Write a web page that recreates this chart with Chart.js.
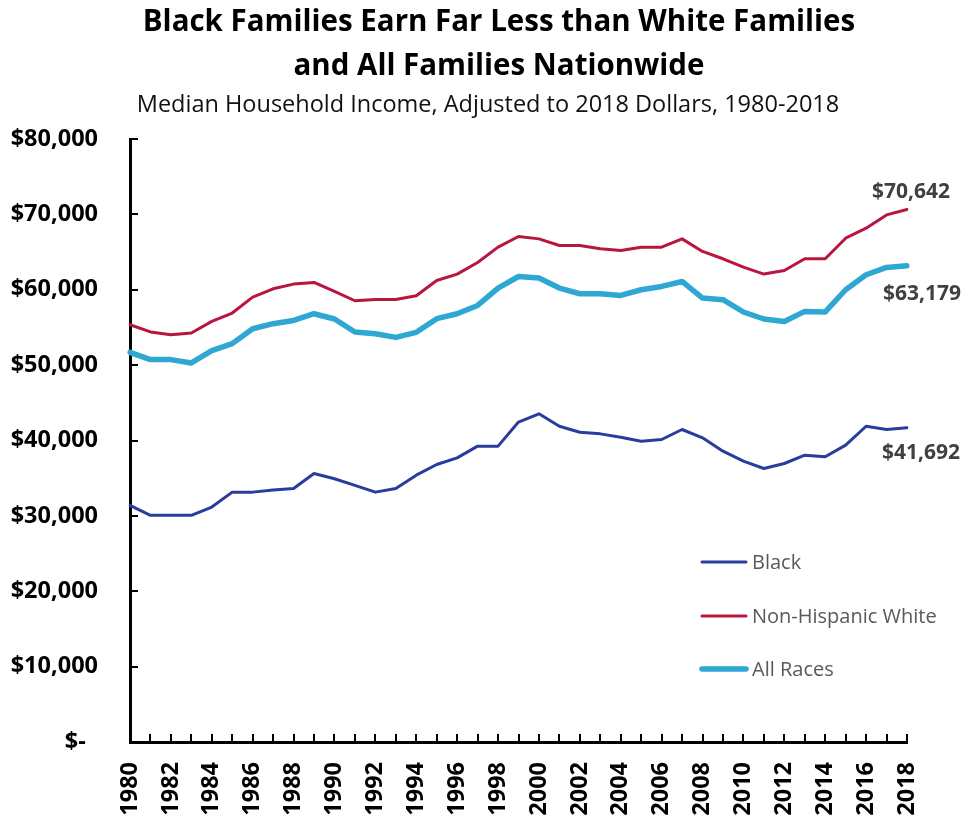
<!DOCTYPE html>
<html>
<head>
<meta charset="utf-8">
<title>Median Household Income by Race</title>
<script src="https://cdn.jsdelivr.net/npm/chart.js@4.4.1/dist/chart.umd.min.js"></script>
<style>
  html, body { margin: 0; padding: 0; background: #fff; }
  canvas { display: block; }
</style>
</head>
<body>
<canvas id="myChart" width="966" height="817"></canvas>
<script>
// years on the x axis
const years = [];
for (let y = 1980; y <= 2018; y++) years.push(String(y));

// median household income, 2018 dollars
const blackIncome = [31390, 30070, 30070, 30070, 31170, 33150, 33150, 33420, 33640, 35630,
                     34930, 34040, 33150, 33640, 35400, 36820, 37700, 39250, 39250, 42450,
                     43540, 41890, 41100, 40880, 40440, 39910, 40130, 41460, 40350, 38580,
                     37260, 36290, 36950, 38050, 37840, 39380, 41890, 41460, 41692];
const whiteIncome = [55360, 54400, 54040, 54260, 55800, 56910, 59030, 60130, 60750, 60970,
                     59780, 58540, 58720, 58720, 59200, 61230, 62080, 63620, 65650, 67060,
                     66750, 65870, 65870, 65430, 65210, 65650, 65650, 66750, 65080, 64110,
                     63000, 62080, 62560, 64110, 64110, 66840, 68170, 69930, 70642];
const allIncome   = [51700, 50730, 50730, 50290, 51920, 52850, 54830, 55500, 55930, 56820,
                     56120, 54400, 54170, 53680, 54350, 56160, 56820, 57920, 60220, 61760,
                     61550, 60220, 59470, 59470, 59250, 60000, 60440, 61100, 58900, 58680,
                     57050, 56120, 55800, 57130, 57050, 60000, 61990, 62960, 63179];

const seriesNames = ['Black', 'Non-Hispanic White', 'All Races'];
const yTicks = [0, 10000, 20000, 30000, 40000, 50000, 60000, 70000, 80000];

const titleLines = ['Black Families Earn Far Less than White Families', 'and All Families Nationwide'];
const subTitle = 'Median Household Income, Adjusted to 2018 Dollars, 1980-2018';

const FONT = '"Open Sans", Lato, sans-serif';

function money(v) {
  if (v === 0) return '$-  ';
  return '$' + v.toLocaleString('en-US');
}

// title block drawn by hand so it can sit off-centre like the original
const titles = {
  id: 'titles',
  afterDraw(chart) {
    const ctx = chart.ctx;
    ctx.save();
    ctx.textAlign = 'center';
    ctx.textBaseline = 'middle';
    ctx.fillStyle = '#000';
    ctx.font = 'bold 29.5px ' + FONT;
    ctx.fillText(titleLines[0], 499, 23);
    ctx.fillText(titleLines[1], 499, 67);
    ctx.fillStyle = '#111';
    ctx.font = '23.5px ' + FONT;
    ctx.fillText(subTitle, 488, 105);
    ctx.restore();
  }
};

// small inside tick marks on both axes
const insideTicks = {
  id: 'insideTicks',
  afterDraw(chart) {
    const ctx = chart.ctx, a = chart.chartArea;
    const xs = chart.scales.x, ys = chart.scales.y;
    ctx.save();
    ctx.strokeStyle = '#000';
    ctx.lineWidth = 2;
    ctx.beginPath();
    yTicks.forEach(v => {
      if (v === 0) return;
      const y = Math.round(ys.getPixelForValue(v));
      ctx.moveTo(a.left, y);
      ctx.lineTo(a.left + 8, y);
    });
    years.forEach((yr, i) => {
      const x = Math.round(xs.getPixelForValue(i));
      ctx.moveTo(x, a.bottom);
      ctx.lineTo(x, a.bottom - 8);
    });
    ctx.stroke();
    ctx.restore();
  }
};

// legend sitting inside the plot, lower right
const legendBox = {
  id: 'legendBox',
  afterDraw(chart) {
    const ctx = chart.ctx;
    const rows = [562, 616, 669];
    ctx.save();
    ctx.font = '20px ' + FONT;
    ctx.textBaseline = 'middle';
    ctx.textAlign = 'left';
    chart.data.datasets.forEach((ds, i) => {
      const y = rows[i];
      ctx.strokeStyle = ds.borderColor;
      ctx.lineWidth = ds.borderWidth;
      ctx.lineCap = 'round';
      ctx.beginPath();
      ctx.moveTo(702, y);
      ctx.lineTo(746, y);
      ctx.stroke();
      ctx.fillStyle = '#595959';
      ctx.fillText(ds.label, 752, y + 1);
    });
    ctx.restore();
  }
};

// value labels at the 2018 end of each line
const endOffsets = [[14, 25], [4, -18], [15, 28]];
const endLabels = {
  id: 'endLabels',
  afterDatasetsDraw(chart) {
    const ctx = chart.ctx;
    ctx.save();
    ctx.font = 'bold 21px ' + FONT;
    ctx.fillStyle = '#404040';
    ctx.textAlign = 'center';
    ctx.textBaseline = 'middle';
    chart.data.datasets.forEach((ds, i) => {
      const meta = chart.getDatasetMeta(i);
      const pt = meta.data[meta.data.length - 1];
      const v = ds.data[ds.data.length - 1];
      ctx.fillText(money(v), pt.x + endOffsets[i][0], pt.y + endOffsets[i][1]);
    });
    ctx.restore();
  }
};

const ctx = document.getElementById('myChart').getContext('2d');
const myChart = new Chart(ctx, {
  type: 'line',
  data: {
    labels: years,
    datasets: [
      { label: seriesNames[0], data: blackIncome, borderColor: '#2a3c9c', borderWidth: 3 },
      { label: seriesNames[1], data: whiteIncome, borderColor: '#b8153f', borderWidth: 3 },
      { label: seriesNames[2], data: allIncome,   borderColor: '#2ea7d2', borderWidth: 5.5 }
    ]
  },
  options: {
    responsive: false,
    animation: false,
    devicePixelRatio: 1,
    elements: { point: { radius: 0 }, line: { tension: 0, borderJoinStyle: 'round', borderCapStyle: 'round' } },
    layout: { padding: { left: 0, right: 59, top: 139, bottom: 0 } },
    plugins: {
      legend: { display: false },
      tooltip: { enabled: false },
      title: { display: false }
    },
    scales: {
      x: {
        type: 'category',
        offset: false,
        afterFit(s) { s.height = 75; },
        grid: { display: false, drawTicks: false },
        border: { display: true, color: '#000', width: 3 },
        ticks: {
          autoSkip: false,
          minRotation: 90,
          maxRotation: 90,
          padding: 20,
          color: '#000',
          font: { family: FONT, size: 23.5, weight: 'bold' },
          callback(val, i) { return i % 2 === 0 ? years[i] : ''; }
        }
      },
      y: {
        min: 0,
        max: 80000,
        afterFit(s) { s.width = 130; },
        afterBuildTicks(s) { s.ticks = yTicks.map(v => ({ value: v })); },
        grid: { display: false, drawTicks: false },
        border: { display: true, color: '#000', width: 3 },
        ticks: {
          padding: 32,
          color: '#000',
          font: { family: FONT, size: 23.5, weight: 'bold' },
          callback(v) { return money(v); }
        }
      }
    }
  },
  plugins: [titles, insideTicks, legendBox, endLabels]
});
</script>
</body>
</html>
